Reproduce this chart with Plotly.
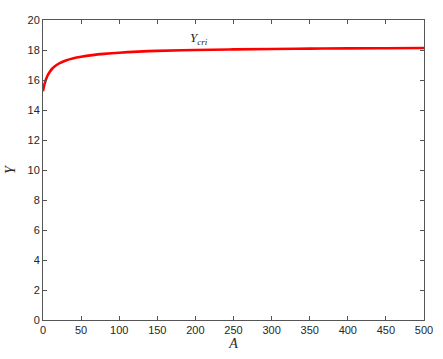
import plotly.graph_objects as go

A_vals = [0, 1, 2, 4, 6, 9, 12, 16, 22, 30, 40, 50, 65, 80, 100, 125, 150, 200, 250, 300, 350, 400, 450, 500]
Y_vals = [15.25, 15.5, 15.72, 16.05, 16.3, 16.55, 16.75, 16.93, 17.12, 17.3, 17.45, 17.55, 17.66, 17.74, 17.82, 17.89, 17.94, 18.0, 18.04, 18.07, 18.09, 18.11, 18.12, 18.13]
x_ticks = [0, 50, 100, 150, 200, 250, 300, 350, 400, 450, 500]
y_ticks = [0, 2, 4, 6, 8, 10, 12, 14, 16, 18, 20]

fig = go.Figure()
fig.add_trace(go.Scatter(x=A_vals, y=Y_vals, mode="lines",
                         line=dict(color="#ff0000", width=2.6, shape="spline"),
                         showlegend=False))

fig.add_annotation(x=205, y=18.75, text="<i>Y</i><sub><i>cri</i></sub>",
                   showarrow=False, font=dict(family="Liberation Serif", size=13, color="#262626"))

axis_common = dict(showline=True, linecolor="#555555", linewidth=1, mirror="ticks",
                   ticks="inside", ticklen=4, tickcolor="#555555", showgrid=False, zeroline=False,
                   automargin=False,
                   tickfont=dict(family="Liberation Sans", size=11, color="#262626"))

fig.update_xaxes(range=[0, 500], tickvals=x_ticks, ticktext=[str(v) for v in x_ticks],
                 title=dict(text="<i>A</i>", font=dict(family="Liberation Serif", size=14, color="#262626"), standoff=2),
                 **axis_common)
fig.update_yaxes(range=[0, 20], tickvals=y_ticks, ticktext=[str(v) for v in y_ticks],
                 title=dict(text="<i>Y</i>", font=dict(family="Liberation Serif", size=14, color="#262626"), standoff=8),
                 **axis_common)

fig.update_layout(width=443, height=359, margin=dict(l=43, r=19, t=20, b=39),
                  plot_bgcolor="white", paper_bgcolor="white")

fig.write_html("out.html", config={"displayModeBar": False},
               post_script="document.body.style.margin='0';document.body.style.padding='0';")
